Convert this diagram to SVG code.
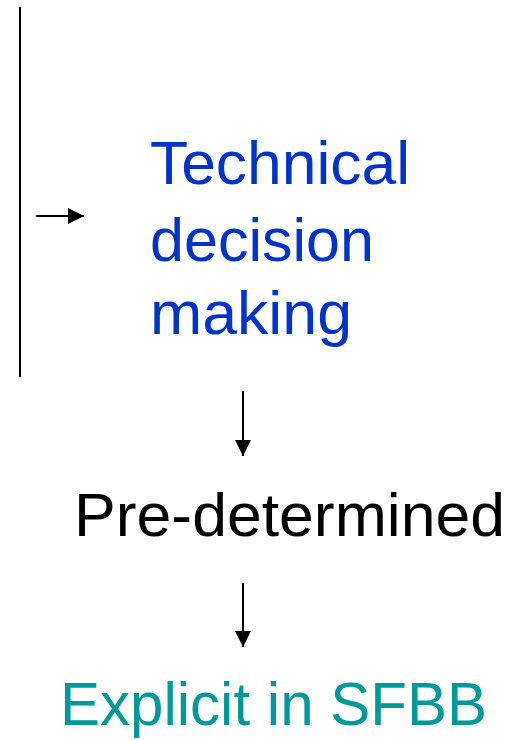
<svg xmlns="http://www.w3.org/2000/svg" width="522" height="740" viewBox="0 0 522 740">
<style>
text{font-family:"Liberation Sans",Arial,sans-serif;font-size:61px}
.blue{fill:#0033CC}
.teal{fill:#009999}
.blk{fill:#000}
.ln{stroke:#000;stroke-width:2;fill:none}
</style>
<defs>
<marker id="ah2" viewBox="0 0 16 16" refX="16" refY="8" markerWidth="16" markerHeight="16" orient="auto" markerUnits="userSpaceOnUse"><path d="M0,0 L16,8 L0,16 Z" fill="#000"/></marker>
</defs>
<g id="connectors">
<line class="ln" x1="20" y1="7" x2="20" y2="377"/>
<line class="ln" x1="36" y1="216" x2="84" y2="216" marker-end="url(#ah2)"/>
<line class="ln" x1="243" y1="391" x2="243" y2="456" marker-end="url(#ah2)"/>
<line class="ln" x1="243" y1="583" x2="243" y2="647" marker-end="url(#ah2)"/>
</g>
<g id="technical">
<text class="blue" x="150" y="184" textLength="260" lengthAdjust="spacingAndGlyphs">Technical</text>
<text class="blue" x="150" y="261" textLength="224" lengthAdjust="spacingAndGlyphs">decision</text>
<text class="blue" x="150" y="334" textLength="202" lengthAdjust="spacingAndGlyphs">making</text>
</g>
<g id="predetermined">
<text class="blk" x="74" y="536" textLength="431" lengthAdjust="spacingAndGlyphs">Pre-determined</text>
</g>
<g id="explicit">
<text class="teal" x="60" y="725" textLength="427" lengthAdjust="spacingAndGlyphs">Explicit in SFBB</text>
</g>
</svg>
